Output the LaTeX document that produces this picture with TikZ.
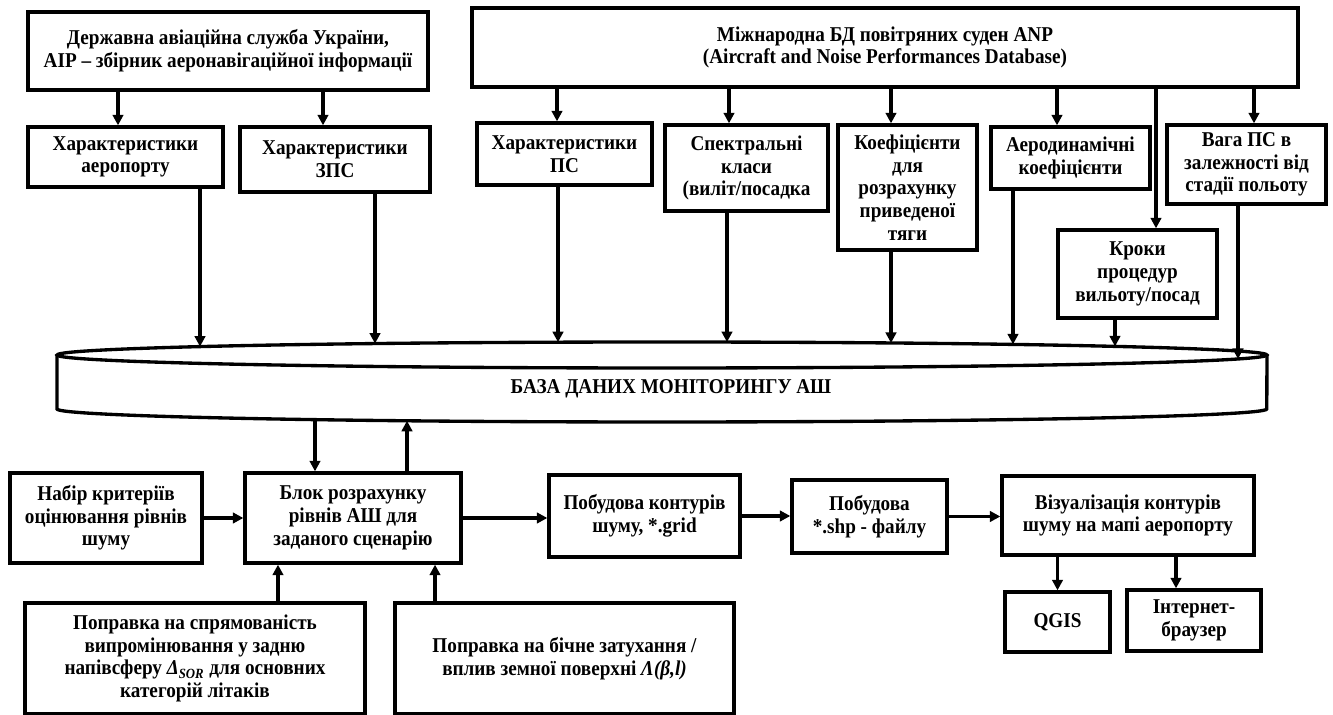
\documentclass[tikz,border=0pt]{standalone}
\usepackage{fontspec}
\setmainfont{Liberation Serif}[FakeStretch=0.91]
\usetikzlibrary{arrows.meta}

\tikzset{
  blk/.style={draw, line width=1.9pt, align=center, inner sep=2pt,
    font=\fontsize{12}{12.9}\selectfont\bfseries},
  arr/.style={line width=1.9pt, -{Triangle[length=6pt,width=6pt]}},
  rim/.style={line width=1.9pt}
}

\begin{document}
\begin{tikzpicture}[x=0.02cm, y=-0.02cm]
  \useasboundingbox (0,0) rectangle (1333,715);

  % sources of data
  \node[blk, minimum width=8cm, minimum height=1.56cm] (dasu) at (228,51)
    {Державна авіаційна служба України,\\AIP – збірник аеронавігаційної інформації};
  \node[blk, minimum width=16.52cm, minimum height=1.58cm] (anp) at (885,47.5)
    {Міжнародна БД повітряних суден ANP\\(Aircraft and Noise Performances Database)};

  % characteristics row
  \node[blk, minimum width=3.9cm, minimum height=1.2cm] (harAir) at (125.5,157)
    {Характеристики\\аеропорту};
  \node[blk, minimum width=3.8cm, minimum height=1.3cm] (harZps) at (335,159.5)
    {Характеристики\\ЗПС};
  \node[blk, minimum width=3.5cm, minimum height=1.24cm] (harPs) at (564.5,154)
    {Характеристики\\ПС};
  \node[blk, minimum width=3.26cm, minimum height=1.72cm] (spektr) at (746.5,168)
    {Спектральні\\класи\\(виліт/посадка};
  \node[blk, minimum width=2.78cm, minimum height=2.5cm] (koef) at (907.5,187.5)
    {Коефіцієнти\\для\\розрахунку\\приведеної\\тяги};
  \node[blk, minimum width=3.18cm, minimum height=1.24cm] (aero) at (1070.5,158)
    {Аеродинамічні\\коефіцієнти};
  \node[blk, minimum width=3.18cm, minimum height=1.58cm] (vaga) at (1246.5,164.5)
    {Вага ПС в\\залежності від\\стадії польоту};
  \node[blk, minimum width=3.18cm, minimum height=1.76cm] (kroky) at (1137.5,274)
    {Кроки\\процедур\\вильоту/посад};

  % database cylinder
  \draw[rim] (662,355) ellipse [x radius=12.1cm, y radius=0.26cm];
  \draw[rim] (57,355) -- (57,409)
    arc [start angle=180, end angle=360, x radius=12.1cm, y radius=0.26cm] -- (1267,355);
  \node[font=\fontsize{12}{12.9}\selectfont\bfseries] (db) at (671,389)
    {БАЗА ДАНИХ МОНІТОРИНГУ АШ};
  \coordinate (dbA) at (200,346.6);
  \coordinate (dbB) at (375,343.6);
  \coordinate (dbC) at (558,342.2);
  \coordinate (dbD) at (727,342.1);
  \coordinate (dbE) at (891,343);
  \coordinate (dbF) at (1013,344.4);
  \coordinate (dbG) at (1115,346.4);
  \coordinate (dbH) at (1238,359);
  \coordinate (dbOut) at (315,419.6);
  \coordinate (dbIn) at (407,420.8);

  % calculation chain
  \node[blk, minimum width=3.84cm, minimum height=1.8cm] (nabir) at (106,518)
    {Набір критеріїв\\оцінювання рівнів\\шуму};
  \node[blk, minimum width=4.32cm, minimum height=1.8cm] (blok) at (353,518)
    {Блок розрахунку\\рівнів АШ для\\заданого сценарію};
  \node[blk, minimum width=3.82cm, minimum height=1.64cm] (pobCont) at (644.5,516)
    {Побудова контурів\\шуму, *.grid};
  \node[blk, minimum width=3.1cm, minimum height=1.46cm] (pobShp) at (869.5,516.5)
    {Побудова\\*.shp - файлу};
  \node[blk, minimum width=5.04cm, minimum height=1.58cm] (vizual) at (1128,515.5)
    {Візуалізація контурів\\шуму на мапі аеропорту};
  \node[blk, minimum width=2.1cm, minimum height=1.2cm] (qgis) at (1057.5,622)
    {QGIS};
  \node[blk, minimum width=2.68cm, minimum height=1.22cm] (brauzer) at (1194,620.5)
    {Інтернет-\\браузер};

  % corrections
  \node[blk, minimum width=6.8cm, minimum height=2.22cm] (popr1) at (195,658.5)
    {Поправка на спрямованість\\випромінювання у задню\\напівсферу \textit{Δ}\textsubscript{\textit{SOR}} для основних\\категорій літаків};
  \node[blk, minimum width=6.78cm, minimum height=2.22cm] (popr2) at (564.5,658.5)
    {Поправка на бічне затухання /\\вплив земної поверхні \textit{Λ(β,l)}};

  % arrows from sources
  \draw[arr] ([xshift=-0.15cm]harAir.north |- dasu.south) -- ([xshift=-0.15cm]harAir.north);
  \draw[arr] ([xshift=-0.24cm]harZps.north |- dasu.south) -- ([xshift=-0.24cm]harZps.north);
  \draw[arr] ([xshift=-0.15cm]harPs.north |- anp.south) -- ([xshift=-0.15cm]harPs.north);
  \draw[arr] ([xshift=-0.35cm]spektr.north |- anp.south) -- ([xshift=-0.35cm]spektr.north);
  \draw[arr] ([xshift=-0.33cm]koef.north |- anp.south) -- ([xshift=-0.33cm]koef.north);
  \draw[arr] ([xshift=-0.27cm]aero.north |- anp.south) -- ([xshift=-0.27cm]aero.north);
  \draw[arr] ([xshift=0.37cm]kroky.north |- anp.south) -- ([xshift=0.37cm]kroky.north);
  \draw[arr] ([xshift=0.15cm]vaga.north |- anp.south) -- ([xshift=0.15cm]vaga.north);

  % arrows into the database
  \draw[arr] (harAir.south -| dbA) -- (dbA);
  \draw[arr] (harZps.south -| dbB) -- (dbB);
  \draw[arr] (harPs.south -| dbC) -- (dbC);
  \draw[arr] (spektr.south -| dbD) -- (dbD);
  \draw[arr] (koef.south -| dbE) -- (dbE);
  \draw[arr] (aero.south -| dbF) -- (dbF);
  \draw[arr] (kroky.south -| dbG) -- (dbG);
  \draw[arr] (vaga.south -| dbH) -- (dbH);

  % database and calculation block
  \draw[arr] (dbOut) -- (blok.north -| dbOut);
  \draw[arr] (blok.north -| dbIn) -- (dbIn);

  % chain
  \draw[arr] (nabir.east) -- (nabir.east -| blok.west);
  \draw[arr] (blok.east) -- (blok.east -| pobCont.west);
  \draw[arr] (pobCont.east) -- (pobCont.east -| pobShp.west);
  \draw[arr] (pobShp.east) -- (pobShp.east -| vizual.west);
  \draw[arr] ([xshift=1.66cm]popr1.north) -- ([xshift=1.66cm]popr1.north |- blok.south);
  \draw[arr] ([xshift=-2.59cm]popr2.north) -- ([xshift=-2.59cm]popr2.north |- blok.south);
  \draw[arr] (qgis.north |- vizual.south) -- (qgis.north);
  \draw[arr] ([xshift=-0.36cm]brauzer.north |- vizual.south) -- ([xshift=-0.36cm]brauzer.north);
\end{tikzpicture}
\end{document}
